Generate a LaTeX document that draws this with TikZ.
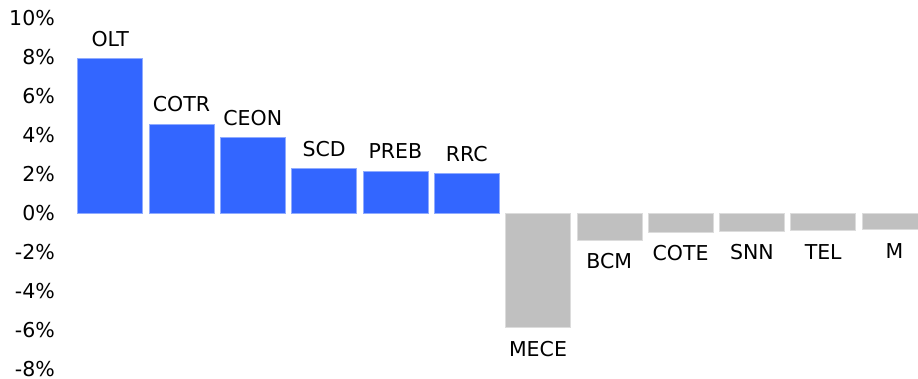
\documentclass[tikz,border=0pt]{standalone}
\usepackage{fontspec}
\setmainfont{DejaVu Sans}
\usepackage{tikz}
\definecolor{gainblue}{HTML}{3366FF}
\definecolor{lossgrey}{HTML}{C0C0C0}

\begin{document}
\begin{tikzpicture}[x=1pt, y=19.5pt, font=\fontsize{20.5}{24}\selectfont]
\tikzstyle{bar}=[draw=#1!55!white, fill=#1, line width=0.6pt]
\tikzstyle{ticklabel}=[anchor=east, inner sep=0pt]
\tikzstyle{barlabel}=[inner sep=0pt]
\clip (0,-8.436) rectangle (918,10.95);

% axis labels
\foreach \v [count=\k] in {-8,-6,...,10}
  \node[ticklabel] (tick\k) at (55,\v) {\v\%};

% gains
\foreach \lab/\val [count=\i from 0] in {OLT/7.94, COTR/4.59, CEON/3.92, SCD/2.32, PREB/2.19, RRC/2.04}
{
  \pgfmathsetmacro{\xl}{77.7+71.3*\i}
  \draw[bar=gainblue] (\xl,0) rectangle +(65,\val);
  \node[barlabel] (\lab) at (\xl+32.5,\val+1) {\lab};
}

% losses
\foreach \lab/\val [count=\i from 6] in {MECE/-5.86, BCM/-1.36, COTE/-0.96, SNN/-0.90, TEL/-0.86, M/-0.81}
{
  \pgfmathsetmacro{\xl}{77.7+71.3*\i}
  \draw[bar=lossgrey] (\xl,0) rectangle +(65,\val);
  \node[barlabel] (\lab) at (\xl+32.5,\val-1.09) {\lab};
}

\end{tikzpicture}
\end{document}
